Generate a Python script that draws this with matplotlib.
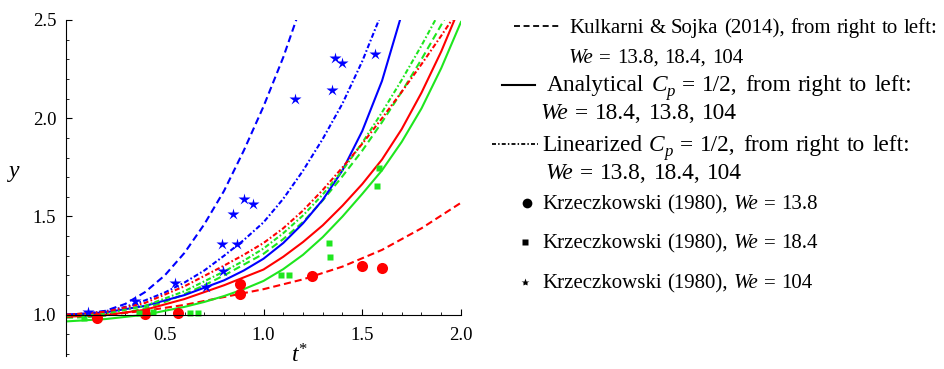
import matplotlib
matplotlib.use("Agg")
import matplotlib.pyplot as plt
from matplotlib.ticker import MultipleLocator, FixedLocator, StrMethodFormatter

plt.rcParams["font.family"] = ["Liberation Serif", "DejaVu Serif"]
plt.rcParams["mathtext.fontset"] = "custom"
plt.rcParams["mathtext.rm"] = "Liberation Serif"
plt.rcParams["mathtext.it"] = "Liberation Serif:italic"

BLUE = "#0000ff"
RED = "#ff0000"
GREEN = "#1ee61e"

# Kulkarni & Sojka (2014)
kulk_104_t = [0, 0.1, 0.2, 0.3, 0.4, 0.5, 0.6, 0.7, 0.8, 0.9, 1.0, 1.1, 1.2]
kulk_104_y = [1.0, 1.005, 1.02, 1.055, 1.115, 1.20, 1.315, 1.46, 1.63, 1.835, 2.06, 2.31, 2.60]
kulk_184_t = [0, 0.1, 0.2, 0.3, 0.4, 0.5, 0.6, 0.7, 0.8, 0.9, 1.0, 1.1, 1.2, 1.3, 1.4,
              1.5, 1.6, 1.7, 1.8, 1.9, 1.95]
kulk_184_y = [0.985, 0.987, 0.995, 1.01, 1.033, 1.065, 1.105, 1.15, 1.20, 1.255, 1.31,
              1.385, 1.472, 1.582, 1.705, 1.835, 1.98, 2.135, 2.30, 2.475, 2.565]
kulk_138_t = [0, 0.2, 0.4, 0.6, 0.8, 1.0, 1.2, 1.4, 1.6, 1.8, 2.0]
kulk_138_y = [0.99, 1.0, 1.02, 1.05, 1.09, 1.13, 1.18, 1.245, 1.33, 1.44, 1.57]

# analytical, Cp = 1/2
anal_104_t = [0, 0.2, 0.4, 0.6, 0.8, 0.9, 1.0, 1.1, 1.2, 1.3, 1.4, 1.5, 1.6, 1.7]
anal_104_y = [1.0, 1.012, 1.045, 1.10, 1.175, 1.225, 1.285, 1.365, 1.465, 1.585, 1.735,
              1.935, 2.19, 2.53]
anal_138_t = [0, 0.2, 0.4, 0.6, 0.8, 1.0, 1.1, 1.2, 1.3, 1.4, 1.5, 1.6, 1.7, 1.8, 1.9, 2.0]
anal_138_y = [0.99, 0.998, 1.025, 1.08, 1.15, 1.23, 1.295, 1.37, 1.455, 1.555, 1.665,
              1.79, 1.945, 2.13, 2.34, 2.58]
anal_184_t = [0, 0.2, 0.4, 0.6, 0.7, 0.8, 0.9, 1.0, 1.1, 1.2, 1.3, 1.4, 1.5, 1.6, 1.7,
              1.8, 1.9, 2.0]
anal_184_y = [0.966, 0.978, 1.0, 1.04, 1.065, 1.095, 1.13, 1.172, 1.232, 1.305, 1.395,
              1.50, 1.615, 1.735, 1.88, 2.05, 2.255, 2.49]

# linearized, Cp = 1/2
lin_104_t = [0, 0.1, 0.2, 0.3, 0.4, 0.5, 0.6, 0.7, 0.8, 0.9, 1.0, 1.1, 1.2, 1.3, 1.4, 1.5, 1.6]
lin_104_y = [1.0, 1.005, 1.018, 1.04, 1.073, 1.113, 1.164, 1.225, 1.30, 1.38, 1.47,
             1.59, 1.733, 1.895, 2.075, 2.29, 2.54]
lin_138_t = [0, 0.2, 0.4, 0.6, 0.8, 0.9, 1.0, 1.1, 1.2, 1.3, 1.4, 1.5, 1.6, 1.7, 1.8, 1.9, 1.96]
lin_138_y = [1.0, 1.015, 1.06, 1.145, 1.25, 1.305, 1.365, 1.44, 1.53, 1.635, 1.75,
             1.87, 2.0, 2.135, 2.275, 2.42, 2.51]
lin_184_t = [0, 0.2, 0.4, 0.6, 0.8, 0.9, 1.0, 1.1, 1.2, 1.3, 1.4, 1.5, 1.6, 1.7, 1.8, 1.87]
lin_184_y = [0.995, 1.005, 1.045, 1.12, 1.22, 1.275, 1.337, 1.415, 1.505, 1.612, 1.735,
             1.875, 2.03, 2.195, 2.37, 2.50]

# Krzeczkowski (1980) measurements
exp_138_t = [0.155, 0.40, 0.569, 0.881, 0.881, 1.244, 1.499, 1.598]
exp_138_y = [0.983, 1.005, 1.009, 1.156, 1.105, 1.198, 1.246, 1.237]
exp_184_t = [0.09, 0.37, 0.44, 0.63, 0.67, 1.087, 1.131, 1.33, 1.338, 1.577, 1.585]
exp_184_y = [0.985, 1.01, 1.013, 1.007, 1.007, 1.202, 1.202, 1.364, 1.293, 1.656, 1.746]
exp_104_t = [0.113, 0.349, 0.552, 0.707, 0.797, 0.792, 0.864, 0.847, 0.901, 0.945,
             1.159, 1.349, 1.362, 1.396, 1.565]
exp_104_y = [1.012, 1.068, 1.161, 1.139, 1.222, 1.359, 1.359, 1.512, 1.591, 1.563,
             2.097, 2.144, 2.305, 2.28, 2.327]

xticks = [0.5, 1.0, 1.5, 2.0]
yticks = [1.0, 1.5, 2.0, 2.5]

W, H = 945, 369
fig = plt.figure(figsize=(W / 100, H / 100), dpi=100)
ax = fig.add_axes([66 / W, 13 / H, 395 / W, 336 / H])
ax.patch.set_visible(False)

lw = 1.5
dashed = (0, (3.4, 1.9))
dashdot = (0, (2.4, 1.1, 0.8, 1.1))

ax.plot(kulk_104_t, kulk_104_y, color=BLUE, lw=lw, ls=dashed)
ax.plot(kulk_184_t, kulk_184_y, color=GREEN, lw=lw, ls=dashed)
ax.plot(kulk_138_t, kulk_138_y, color=RED, lw=lw, ls=dashed)
ax.plot(anal_104_t, anal_104_y, color=BLUE, lw=lw)
ax.plot(anal_138_t, anal_138_y, color=RED, lw=lw)
ax.plot(anal_184_t, anal_184_y, color=GREEN, lw=lw)
ax.plot(lin_104_t, lin_104_y, color=BLUE, lw=lw, ls=dashdot)
ax.plot(lin_184_t, lin_184_y, color=GREEN, lw=lw, ls=dashdot)
ax.plot(lin_138_t, lin_138_y, color=RED, lw=lw, ls=dashdot)

ax.plot(exp_138_t, exp_138_y, "o", color=RED, ms=8, mec="none")
ax.plot(exp_184_t, exp_184_y, "s", color=GREEN, ms=4.5, mec="none")
ax.plot(exp_104_t, exp_104_y, "*", color=BLUE, ms=9, mec="none")

ax.set_xlim(0, 2.0)
ax.set_ylim(0.79, 2.5)

# axes cross at (0, 1)
for s in ("top", "right"):
    ax.spines[s].set_visible(False)
ax.spines["bottom"].set_position(("data", 1.0))
for s in ("left", "bottom"):
    ax.spines[s].set_linewidth(0.8)

ax.xaxis.set_major_locator(FixedLocator(xticks))
ax.xaxis.set_minor_locator(MultipleLocator(0.1))
ax.yaxis.set_major_locator(FixedLocator(yticks))
ax.yaxis.set_minor_locator(MultipleLocator(0.1))
ax.xaxis.set_major_formatter(StrMethodFormatter("{x:.1f}"))
ax.yaxis.set_major_formatter(StrMethodFormatter("{x:.1f}"))
ax.tick_params(which="major", direction="in", length=4, width=0.8, labelsize=13.5)
ax.tick_params(which="minor", direction="in", length=2.2, width=0.6)
ax.tick_params(axis="x", pad=9)
ax.tick_params(axis="y", pad=7)

fig.text(300 / W, 1 - 356 / H, "$t^{*}$", fontsize=17, ha="center", va="center")
fig.text(14 / W, 1 - 173 / H, "$y$", fontsize=17, ha="center", va="center")

# legend, drawn in pixel space
leg = fig.add_axes([0, 0, 1, 1], zorder=-1)
leg.set_xlim(0, W)
leg.set_ylim(H, 0)
leg.axis("off")
renderer = fig.canvas.get_renderer()


def rich(x, y, parts, size=15, gap=0.27):
    """Write a line of upright/italic/subscript pieces on baseline y.
    Words are laid out one by one so the word gap can be set."""
    em = size * 100 / 72
    for s, kind in parts:
        if kind == "sp":
            x += gap * em
            continue
        kw = dict(fontsize=size, va="baseline", ha="left")
        yy = y
        if kind == "i":
            kw["style"] = "italic"
        elif kind == "sub":
            kw.update(style="italic", fontsize=size * 0.72)
            yy = y + 0.22 * em
        for k, word in enumerate(s.split(" ")):
            if k:
                x += gap * em
            t = leg.text(x, yy, word, **kw)
            x += t.get_window_extent(renderer).width
    return x


SP = ("", "sp")
MID = 16.8
MGAP = 0.3
leg.plot([514, 559], [26, 26], color="k", lw=1.3, ls=(0, (3.3, 2.0)))
rich(569, 33, [("Kulkarni & Sojka (2014), from right to left:", "n")])
rich(569, 63, [("We", "i"), SP, ("= 13.8, 18.4, 104", "n")])
leg.plot([502, 535], [85, 85], color="k", lw=1.5)
rich(547, 91, [("Analytical", "n"), SP, ("C", "i"), ("p", "sub"), SP,
               ("= 1/2, from right to left:", "n")], MID, MGAP)
rich(540, 119, [("We", "i"), SP, ("= 18.4, 13.8, 104", "n")], MID, MGAP)
leg.plot([492, 538], [144, 144], color="k", lw=1.3, ls=(0, (2.2, 1.2, 0.8, 1.2)))
rich(542, 151, [("Linearized", "n"), SP, ("C", "i"), ("p", "sub"), SP,
                ("= 1/2, from right to left:", "n")], MID, MGAP)
rich(545, 179, [("We", "i"), SP, ("= 13.8, 18.4, 104", "n")], MID, MGAP)

leg.plot([527], [203], "o", color="k", ms=7, mec="none")
rich(542, 209, [("Krzeczkowski (1980),", "n"), SP, ("We", "i"), SP, ("= 13.8", "n")])
leg.plot([525], [242], "s", color="k", ms=4, mec="none")
rich(542, 248, [("Krzeczkowski (1980),", "n"), SP, ("We", "i"), SP, ("= 18.4", "n")])
leg.plot([525], [282], "*", color="k", ms=6, mec="none")
rich(542, 288, [("Krzeczkowski (1980),", "n"), SP, ("We", "i"), SP, ("= 104", "n")])

fig.savefig("out.png", dpi=100)
